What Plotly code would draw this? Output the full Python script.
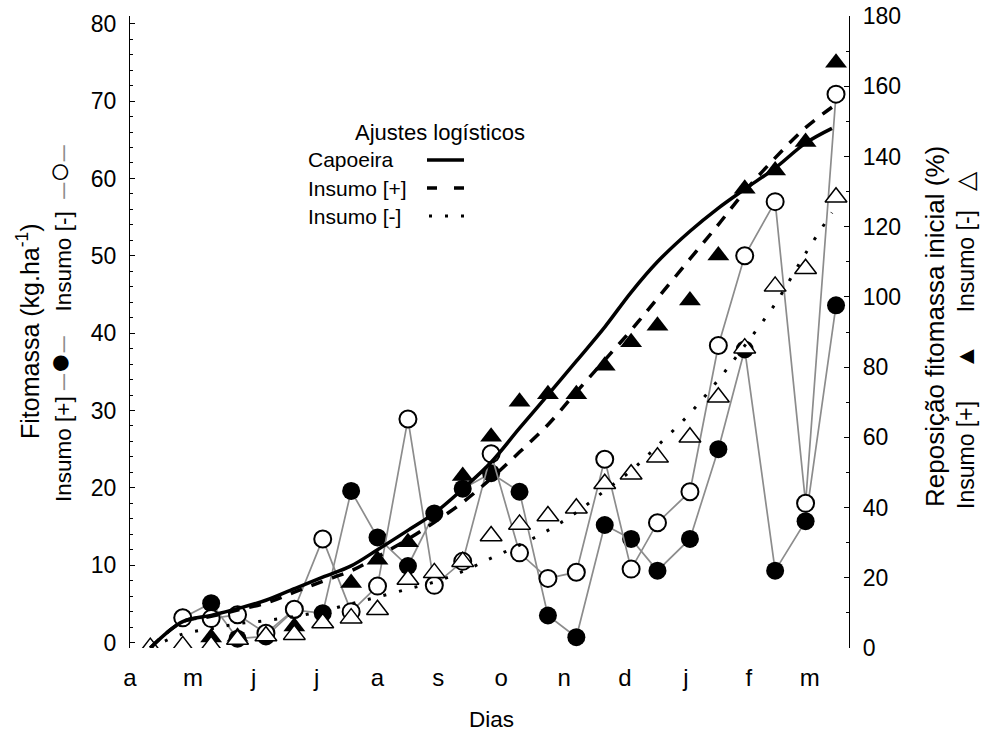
import plotly.graph_objects as go

# ---------------- data ----------------
month_labels = ["a", "m", "j", "j", "a", "s", "o", "n", "d", "j", "f", "m"]
month_days = [0, 31, 61, 92, 122, 152, 183, 214, 244, 274, 305, 335]

days = [26, 40, 53, 67, 81, 95, 109, 122, 137, 150, 164, 178,
        192, 206, 220, 234, 247, 260, 276, 290, 303, 318, 333, 348]

# Fitomassa (kg/ha) - left axis
fito_mais = [3.2, 5.1, 0.5, 0.8, 4.2, 3.8, 19.6, 13.6, 9.9, 16.7, 19.9, 21.9,
             19.5, 3.5, 0.7, 15.2, 13.4, 9.3, 13.4, 25.0, 37.9, 9.3, 15.7, 43.6]
fito_menos = [3.2, 3.1, 3.6, 1.2, 4.3, 13.4, 4.0, 7.3, 28.9, 7.4, 10.5, 24.4,
              11.6, 8.3, 9.1, 23.7, 9.5, 15.5, 19.5, 38.4, 50.0, 57.0, 18.0, 70.9]

# Reposicao fitomassa inicial (%) - right axis
rep_days = [10] + days
rep_mais = [None, None, 3.0, 3.2, None, 6.1, None, 18.5, 25.1, 30.1, None, 49.0, 60.2,
            70.1, 72.3, 72.3, 80.4, 87.1, 91.8, 99.0, 111.8, 130.8, 136.0, 144.1, 166.7]
rep_menos = [0.1, 0.6, 0.6, 2.4, 3.4, 3.8, 7.1, 8.5, 10.9, 19.5, 21.4, 24.6, 31.9,
             35.2, 37.6, 39.8, 46.8, 49.5, 54.3, 60.0, 71.4, 85.4, 103.0, 108.0, 128.4]

# Logistic fits (right axis)
fit_days = [10, 26, 40, 53, 67, 81, 95, 109, 122, 137, 150, 164, 178,
            192, 206, 220, 234, 247, 260, 276, 290, 303, 318, 333, 346]
fit_capoeira = [0, 7.5, 9.3, 11.2, 13.6, 16.9, 20.2, 23.4, 28.0, 33.5, 38.4, 45.3, 52.9,
                62.6, 72.1, 81.7, 91.4, 101.3, 110.0, 118.7, 125.3, 130.7, 136.7, 143.8, 148.0]
fit_mais = [0, 7.5, 9.0, 10.8, 12.8, 15.9, 19.0, 22.0, 26.0, 31.0, 35.8, 41.5, 48.3,
            55.8, 63.6, 72.9, 82.0, 90.5, 99.6, 110.8, 120.6, 130.0, 139.6, 148.2, 154.0]
fit_menos = [0, 4.0, 5.5, 6.9, 7.8, 9.0, 10.5, 12.6, 14.5, 16.8, 18.8, 21.8, 25.6,
             29.3, 33.5, 38.6, 44.8, 50.5, 57.6, 66.8, 76.4, 86.1, 98.0, 112.4, 124.0]

# ---------------- figure ----------------
FONT = "Liberation Sans, Arial, sans-serif"
GRAY = "#8c8c8c"
W, H = 983, 733
ML, MR, MT, MB = 130, 134, 16, 85
PW, PH = W - ML - MR, H - MT - MB


def px(xp):
    return (xp - ML) / PW


def py(yp):
    return (H - MB - yp) / PH


fig = go.Figure()

fig.add_trace(go.Scatter(
    x=days, y=fito_mais, mode="lines+markers", yaxis="y",
    line=dict(color=GRAY, width=1.7),
    marker=dict(symbol="circle", size=18, color="black", line=dict(width=0)),
    showlegend=False))
fig.add_trace(go.Scatter(
    x=days, y=fito_menos, mode="lines+markers", yaxis="y",
    line=dict(color=GRAY, width=1.7),
    marker=dict(symbol="circle", size=17, color="white", line=dict(color="black", width=2)),
    showlegend=False))
fig.add_trace(go.Scatter(
    x=rep_days, y=rep_mais, mode="markers", yaxis="y2",
    marker=dict(symbol="triangle-up", size=19, color="black", line=dict(width=0)),
    showlegend=False))
fig.add_trace(go.Scatter(
    x=rep_days, y=rep_menos, mode="markers", yaxis="y2",
    marker=dict(symbol="triangle-up", size=19, color="white", line=dict(color="black", width=1.5)),
    showlegend=False))
fig.add_trace(go.Scatter(
    x=fit_days, y=fit_capoeira, mode="lines", yaxis="y2", line_shape="spline",
    line=dict(color="black", width=3.5), showlegend=False))
fig.add_trace(go.Scatter(
    x=fit_days, y=fit_mais, mode="lines", yaxis="y2", line_shape="spline",
    line=dict(color="black", width=3.5, dash="12px,10px"), showlegend=False))
fig.add_trace(go.Scatter(
    x=fit_days, y=fit_menos, mode="lines", yaxis="y2", line_shape="spline",
    line=dict(color="black", width=3, dash="3px,13px"), showlegend=False))

ytickfont = dict(family=FONT, size=23, color="black")
xtickfont = dict(family=FONT, size=24, color="black")

fig.update_layout(
    width=W, height=H,
    margin=dict(l=ML, r=MR, t=MT, b=MB, autoexpand=False),
    paper_bgcolor="white", plot_bgcolor="white",
    font=dict(family=FONT, size=20, color="black"),
    xaxis=dict(range=[0, 354.4], tickmode="array", tickvals=month_days, ticktext=month_labels,
               showline=False, showgrid=False, zeroline=False, automargin=False,
               ticks="outside", ticklen=8, tickcolor="rgba(0,0,0,0)", tickfont=xtickfont),
    yaxis=dict(range=[-0.7, 81.0], tickmode="array", tickvals=list(range(0, 81, 10)),
               showline=True, linecolor="black", linewidth=1.2, automargin=False,
               showgrid=False, zeroline=False,
               ticks="inside", ticklen=5, tickcolor="black", tickwidth=1,
               ticklabelstandoff=8, tickfont=ytickfont,
               minor=dict(dtick=2, ticks="inside", ticklen=3, tickcolor="black", tickwidth=1)),
    yaxis2=dict(range=[0, 180], overlaying="y", side="right", tickmode="array",
                tickvals=list(range(0, 181, 20)), automargin=False,
                showline=True, linecolor="black", linewidth=1.2,
                showgrid=False, zeroline=False,
                ticks="inside", ticklen=5, tickcolor="black", tickwidth=1,
                ticklabelstandoff=8, tickfont=ytickfont,
                minor=dict(dtick=10, ticks="inside", ticklen=3, tickcolor="black", tickwidth=1)),
)

NB = "\u00a0"
g = lambda s: f"<span style='color:{GRAY}'>{s}</span>"
big = lambda s, n: f"<span style='font-size:{n}px'>{s}</span>"

left1 = "Fitomassa (kg.ha<sup>-1</sup>)"
left2 = ("Insumo [+]" + NB + g("─") + big("●", 36) + g("─") + NB * 4 +
         "Insumo [-]" + NB * 2 + g("─") + big("○", 36) + g("─"))
right1 = "Reposição fitomassa inicial (%)"
right2 = ("Insumo [+]" + NB * 5 + big("▲", 25) + NB * 5 + "Insumo [-]" + NB * 3 + big("△", 25))

ann = []
ann.append(dict(text=left1, x=px(28), y=py(331), textangle=-90, font=dict(family=FONT, size=25)))
ann.append(dict(text=left2, x=px(58), y=py(323), textangle=-90, font=dict(family=FONT, size=22.5)))
ann.append(dict(text=right1, x=px(935), y=py(326), textangle=-90, font=dict(family=FONT, size=26)))
ann.append(dict(text=right2, x=px(965), y=py(340), textangle=-90, font=dict(family=FONT, size=23)))
ann.append(dict(text="Dias", x=px(491), y=py(719), font=dict(family=FONT, size=22.5)))
ann.append(dict(text="Ajustes logísticos", x=px(440), y=py(132), font=dict(family=FONT, size=22)))
for label, yy in [("Capoeira", 159), ("Insumo [+]", 188), ("Insumo [-]", 216)]:
    ann.append(dict(text=label, x=px(306), y=py(yy), xanchor="left", font=dict(family=FONT, size=21)))

for a in ann:
    a.update(xref="paper", yref="paper", showarrow=False)
    a.setdefault("xanchor", "center")
    a.setdefault("yanchor", "middle")
    a["font"]["color"] = "black"
fig.update_layout(annotations=ann)

shapes = [
    dict(type="line", x0=px(427), x1=px(464), y0=py(160), y1=py(160),
         line=dict(color="black", width=3.5)),
    dict(type="line", x0=px(427), x1=px(465), y0=py(188), y1=py(188),
         line=dict(color="black", width=3.5, dash="10px,17px")),
    dict(type="line", x0=px(429), x1=px(466), y0=py(216), y1=py(216),
         line=dict(color="black", width=3, dash="3px,13px")),
]
for s in shapes:
    s.update(xref="paper", yref="paper")
fig.update_layout(shapes=shapes)

fig.write_html("out.html", config={"displayModeBar": False},
               post_script="document.body.style.margin='0';document.body.style.overflow='hidden';")
